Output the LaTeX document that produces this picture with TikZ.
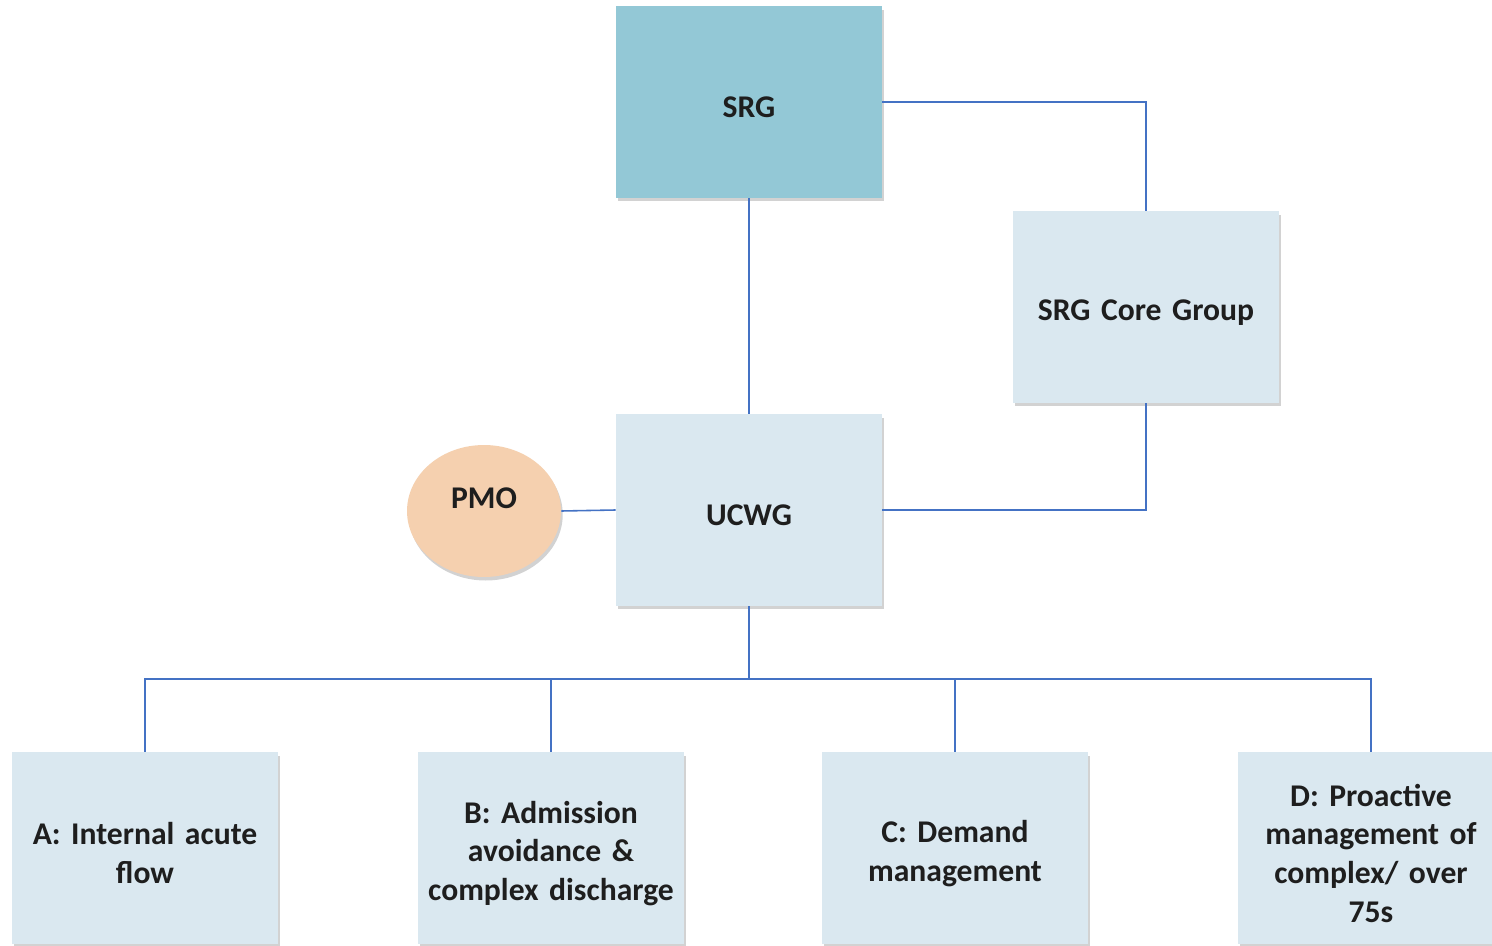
\documentclass[tikz,border=0pt]{standalone}
\usepackage{fontspec}
\setmainfont{Carlito}
\usetikzlibrary{shadows,shapes.geometric}
\definecolor{AzulSRG}{RGB}{147,200,214}
\definecolor{AzulPalido}{RGB}{218,232,240}
\definecolor{Melocoton}{RGB}{245,208,175}
\definecolor{AzulLinea}{RGB}{68,114,196}
\definecolor{Texto}{RGB}{30,30,30}

\begin{document}
\begin{tikzpicture}[x=0.02cm,y=-0.02cm,
  caja/.style={rectangle,fill=AzulPalido,minimum width=5.32cm,minimum height=3.84cm,
    drop shadow={shadow xshift=1pt,shadow yshift=-2pt,opacity=0.35}},
  texto/.style={text width=5cm,align=center,font=\bfseries\fontsize{18}{22}\selectfont,
    text=Texto,yshift=-3pt},
  linea/.style={AzulLinea,line width=0.9pt}]
  \clip (0,0) rectangle (1492,946);
  \fill[white] (0,0) rectangle (1492,946);
  % nivel superior
  \node[caja,fill=AzulSRG,label={[texto]center:SRG}] (srg) at (749,102) {};
  \node[caja,label={[texto]center:SRG Core Group}] (core) at (1146,307) {};
  \node[caja,label={[texto]center:UCWG}] (ucwg) at (749,510) {};
  \node[ellipse,fill=Melocoton,minimum width=3.08cm,minimum height=2.64cm,
    drop shadow={shadow xshift=1pt,shadow yshift=-2pt,opacity=0.35},
    label={[texto,yshift=10pt]center:PMO}] (pmo) at (484,511) {};
  % grupos de trabajo
  \node[caja,label={[texto]center:A: Internal acute\\flow}] (a) at (145,848) {};
  \node[caja,label={[texto]center:B: Admission\\avoidance \&\\complex discharge}] (b) at (551,848) {};
  \node[caja,label={[texto]center:C: Demand\\management}] (c) at (955,848) {};
  \node[caja,label={[texto]center:D: Proactive\\management of\\complex/ over\\75s}] (d) at (1371,848) {};
  % conexiones
  \coordinate (barra) at (749,679);
  \draw[linea] (srg.east) -| (core.north);
  \draw[linea] (srg.south) -- (ucwg.north);
  \draw[linea] (core.south) |- (ucwg.east);
  \draw[linea] (pmo.east) -- (ucwg.west);
  \draw[linea] (ucwg.south) -- (barra);
  \draw[linea] (barra) -| (a.north);
  \draw[linea] (barra) -| (b.north);
  \draw[linea] (barra) -| (c.north);
  \draw[linea] (barra) -| (d.north);
\end{tikzpicture}
\end{document}
